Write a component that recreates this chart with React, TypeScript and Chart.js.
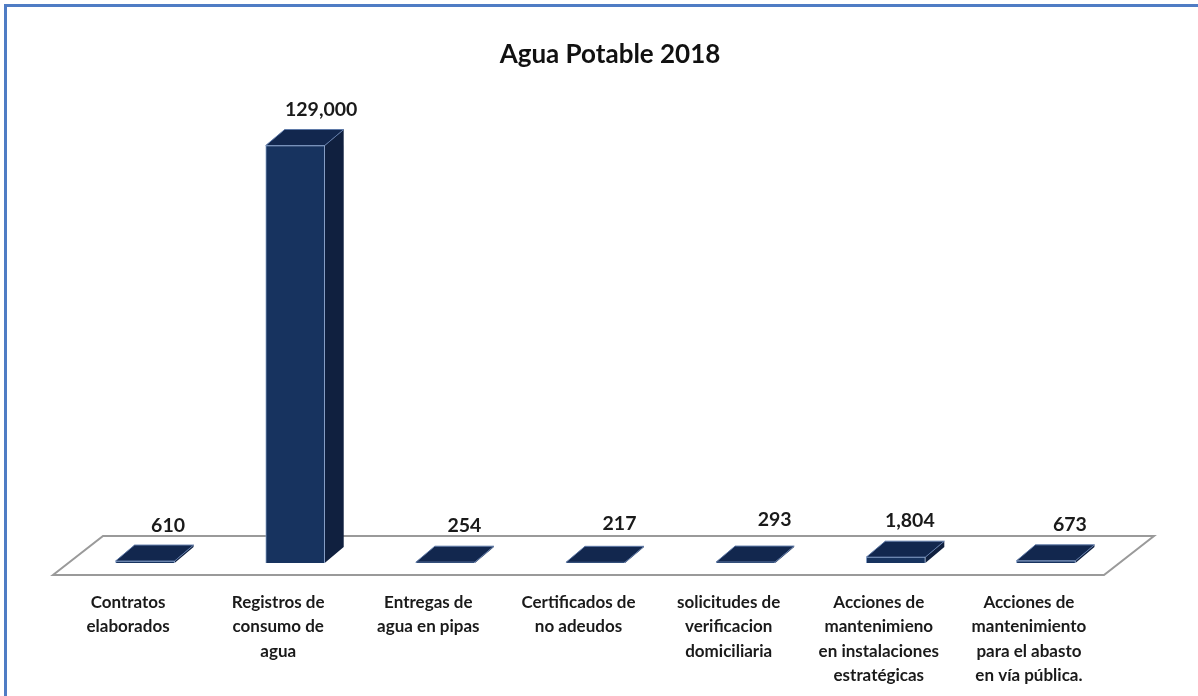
import React, { useEffect, useRef } from "react";
import { Chart, registerables } from "chart.js";

Chart.register(...registerables);

const categories: string[][] = [
  ["Contratos", "elaborados"],
  ["Registros de", "consumo de", "agua"],
  ["Entregas de", "agua en pipas"],
  ["Certificados de", "no adeudos"],
  ["solicitudes de", "verificacion", "domiciliaria"],
  ["Acciones de", "mantenimieno", "en instalaciones", "estratégicas"],
  ["Acciones de", "mantenimiento", "para el abasto", "en vía pública."],
];
const values: number[] = [610, 129000, 254, 217, 293, 1804, 673];
const labelNudgeX: number[] = [23, 26, 19, 24, 29, 14, 24];
const labelNudgeY: number[] = [-35, -36, -36, -39, -42, -36, -36];

const FONT = "Lato, 'Open Sans', sans-serif";
const DEPTH_X = 19;
const DEPTH_Y = 16;
const BAR_SHIFT = 17;
const FLOOR_DX = 50;
const FLOOR_DY = 39;

const bar3d = {
  id: "bar3d",
  beforeDatasetsDraw(chart: any) {
    const { ctx, chartArea } = chart;
    const { left, right, bottom } = chartArea;
    ctx.save();
    ctx.beginPath();
    ctx.moveTo(left, bottom);
    ctx.lineTo(right, bottom);
    ctx.lineTo(right + FLOOR_DX, bottom - FLOOR_DY);
    ctx.lineTo(left + FLOOR_DX, bottom - FLOOR_DY);
    ctx.closePath();
    ctx.fillStyle = "#ffffff";
    ctx.fill();
    ctx.strokeStyle = "#9a9a9a";
    ctx.lineWidth = 2;
    ctx.stroke();
    ctx.restore();

    ctx.save();
    ctx.translate(BAR_SHIFT, 0);
    chart.getDatasetMeta(0).data.forEach((el: any) => {
      const hw = el.width / 2;
      const l = el.x - hw;
      const r = el.x + hw;
      const t = el.y;
      const b = el.base;
      ctx.beginPath();
      ctx.moveTo(r, t);
      ctx.lineTo(r + DEPTH_X, t - DEPTH_Y);
      ctx.lineTo(r + DEPTH_X, b - DEPTH_Y);
      ctx.lineTo(r, b);
      ctx.closePath();
      ctx.fillStyle = "#10203f";
      ctx.fill();
      ctx.beginPath();
      ctx.moveTo(l, t);
      ctx.lineTo(l + DEPTH_X, t - DEPTH_Y);
      ctx.lineTo(r + DEPTH_X, t - DEPTH_Y);
      ctx.lineTo(r, t);
      ctx.closePath();
      ctx.fillStyle = "#12274e";
      ctx.fill();
      ctx.strokeStyle = "#5f7aa8";
      ctx.lineWidth = 1;
      ctx.stroke();
    });
  },
  afterDatasetsDraw(chart: any) {
    const { ctx } = chart;
    ctx.restore();
    ctx.save();
    ctx.font = `bold 19.5px ${FONT}`;
    ctx.fillStyle = "#1a1a1a";
    ctx.textAlign = "center";
    ctx.textBaseline = "middle";
    chart.getDatasetMeta(0).data.forEach((el: any, i: number) => {
      const text = values[i].toLocaleString("en-US");
      ctx.fillText(text, el.x + BAR_SHIFT + labelNudgeX[i], el.y + labelNudgeY[i]);
    });
    ctx.restore();
  },
};

export default function App() {
  const ref = useRef<HTMLCanvasElement>(null);
  useEffect(() => {
    document.body.style.margin = "0";
    const chart = new Chart(ref.current!, {
      type: "bar",
      data: {
        labels: categories,
        datasets: [
          {
            data: values,
            backgroundColor: "#17335f",
            borderColor: "#8aa3c9",
            borderWidth: 1,
            barThickness: 59,
          },
        ],
      },
      plugins: [bar3d],
      options: {
        animation: false,
        responsive: false,
        layout: { padding: { left: 22, right: 0, top: 0, bottom: 0 } },
        plugins: {
          legend: { display: false },
          tooltip: { enabled: false },
          title: {
            display: true,
            text: "Agua Potable 2018",
            color: "#111111",
            font: { family: FONT, size: 26, weight: "bold" },
            padding: { top: 39, bottom: 30 },
          },
        },
        scales: {
          x: {
            grid: { display: false },
            border: { display: false },
            ticks: {
              autoSkip: false,
              maxRotation: 0,
              minRotation: 0,
              padding: 7,
              color: "#1a1a1a",
              font: { family: FONT, size: 17, weight: "bold", lineHeight: 1.44 },
            },
            afterFit: (s: any) => {
              s.height = 121;
            },
          },
          y: {
            min: -3700,
            max: 143000,
            grid: { display: false },
            border: { display: false },
            ticks: { display: false },
            afterFit: (s: any) => {
              s.width = 31;
            },
          },
          yRight: {
            position: "right",
            grid: { display: false },
            border: { display: false },
            ticks: { display: false },
            afterFit: (s: any) => {
              s.width = 94;
            },
          },
        },
      },
    } as any);
    return () => chart.destroy();
  }, []);
  return (
    <div style={{ position: "fixed", left: 0, top: 0, width: 1198, height: 696, background: "#ffffff", overflow: "hidden" }}>
      <div style={{ position: "absolute", left: 4, top: 4, right: 0, bottom: 0, borderLeft: "3px solid #4f7cc4", borderTop: "3px solid #4f7cc4" }} />
      <canvas ref={ref} width={1198} height={696} style={{ position: "absolute", left: 0, top: 0, filter: "blur(0.7px)" }} />
    </div>
  );
}
